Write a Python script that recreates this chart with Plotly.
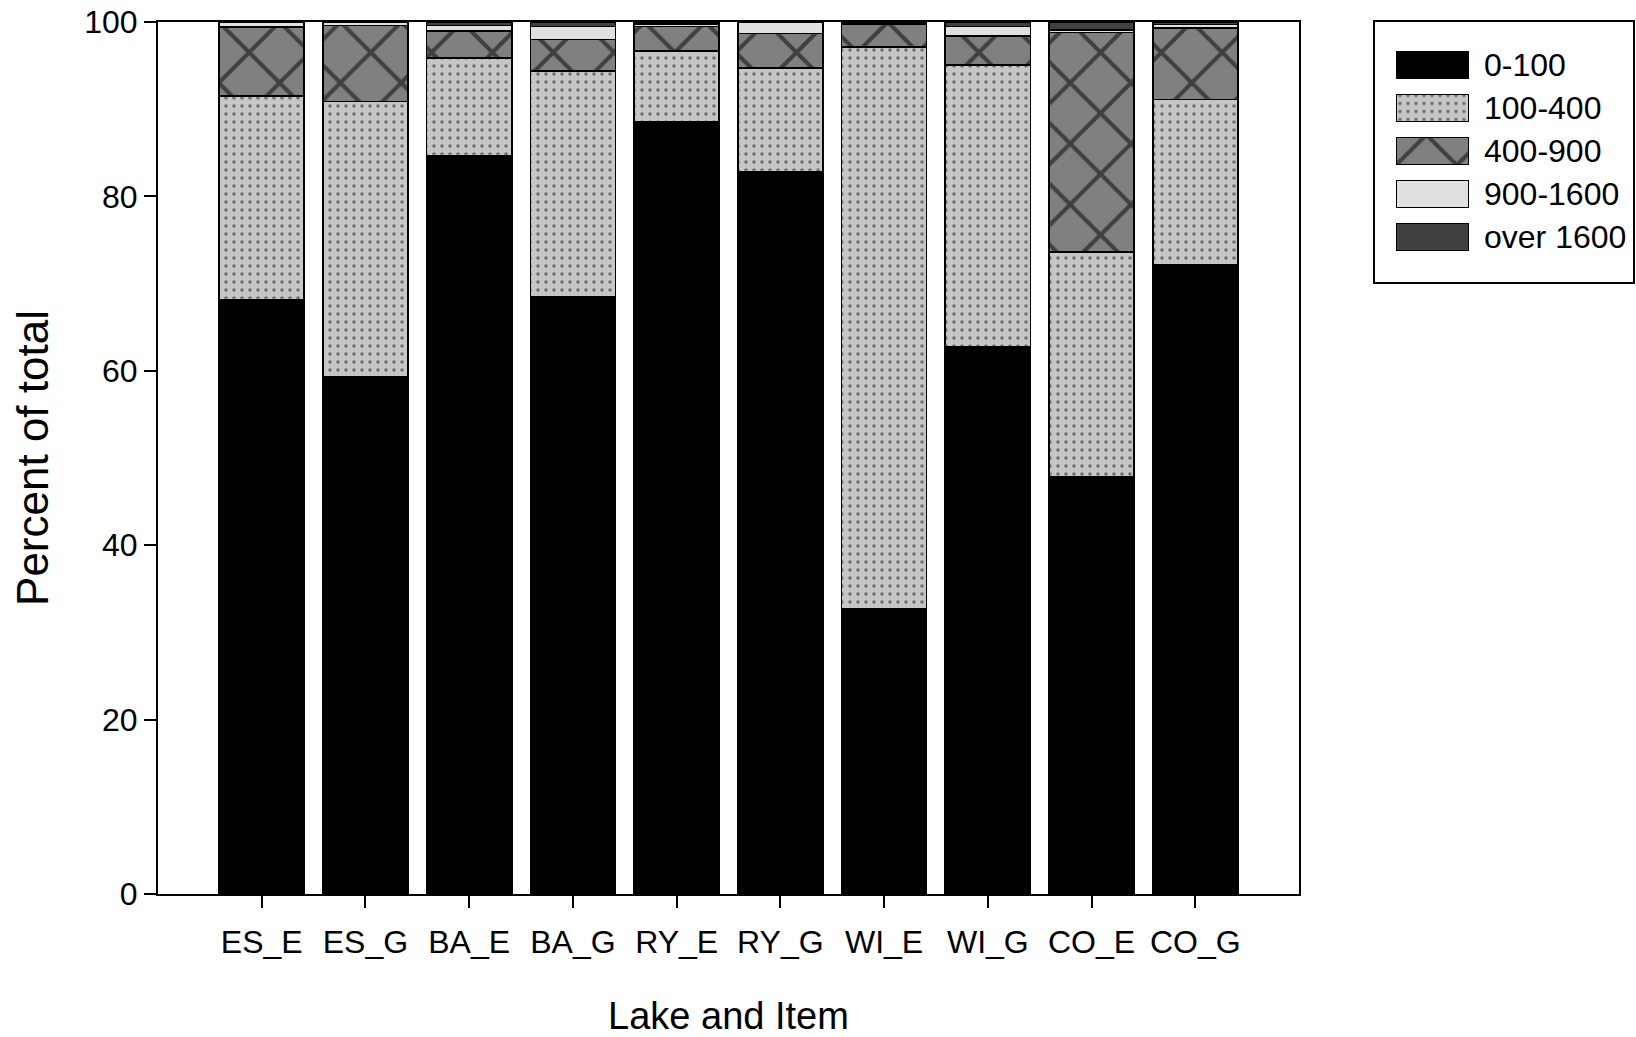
import plotly.graph_objects as go

categories = ["ES_E", "ES_G", "BA_E", "BA_G", "RY_E", "RY_G", "WI_E", "WI_G", "CO_E", "CO_G"]
series_names = ["0-100", "100-400", "400-900", "900-1600", "over 1600"]
s_0_100 = [68.2, 59.3, 84.7, 68.5, 88.5, 82.8, 32.7, 62.8, 47.8, 72.2]
s_100_400 = [23.3, 31.6, 11.2, 25.9, 8.2, 11.9, 64.4, 32.3, 25.8, 18.9]
s_400_900 = [7.9, 8.7, 3.1, 3.6, 2.8, 4.0, 2.6, 3.3, 25.2, 8.2]
s_900_1600 = [0.6, 0.4, 0.6, 1.5, 0.3, 1.3, 0.1, 1.1, 0.3, 0.4]
s_over_1600 = [0.0, 0.0, 0.4, 0.5, 0.2, 0.0, 0.2, 0.5, 0.9, 0.3]
y_ticks = [0, 20, 40, 60, 80, 100]

FONT = "Liberation Sans, Arial, sans-serif"

W, H = 1636, 1037
ML, MR, MT, MB = 158, 0, 22, 143
PW = W - ML - MR
PH = H - MT - MB


def px_x(x):
    return (x - ML) / PW


def px_y(y):
    return (H - MB - y) / PH


styles = [
    dict(color="#000000"),
    dict(color="#c6c6c6", pattern=dict(shape=".", fgcolor="#1a1a1a", bgcolor="#c6c6c6",
                                       size=8, solidity=0.16, fillmode="overlay")),
    dict(color="#808080", pattern=dict(shape="x", fgcolor="#000000", bgcolor="#808080",
                                       size=43, solidity=0.18, fillmode="overlay")),
    dict(color="#e0e0e0"),
    dict(color="#404040"),
]
values = [s_0_100, s_100_400, s_400_900, s_900_1600, s_over_1600]


def make_marker(st):
    m = dict(color=st["color"], line=dict(color="#000000", width=1.6))
    if "pattern" in st:
        m["pattern"] = st["pattern"]
    return m


fig = go.Figure()
for name, vals, st in zip(series_names, values, styles):
    fig.add_trace(go.Bar(x=categories, y=vals, name=name, marker=make_marker(st),
                         xaxis="x", yaxis="y", showlegend=False))

# legend drawn as a small bar subplot (swatches) with labels as tick text
for name, st in zip(series_names, styles):
    fig.add_trace(go.Bar(x=[1], y=[name], orientation="h", width=0.62,
                         marker=make_marker(st), xaxis="x2", yaxis="y2",
                         showlegend=False, hoverinfo="skip"))

fig.update_layout(
    barmode="stack",
    bargap=0.18,
    width=W, height=H,
    margin=dict(l=ML, r=MR, t=MT, b=MB, autoexpand=False),
    plot_bgcolor="white", paper_bgcolor="white",
    font=dict(family=FONT, size=32, color="#000000"),
    showlegend=False,
    xaxis=dict(
        domain=[0, px_x(1299)],
        range=[-1, 10], showline=True, linecolor="#000000", linewidth=2, mirror=True,
        ticks="outside", ticklen=12, tickwidth=2, tickcolor="#000000",
        showgrid=False, zeroline=False, ticklabelstandoff=7,
        title=dict(text="Lake and Item", font=dict(size=38), standoff=44),
        tickfont=dict(size=32),
    ),
    yaxis=dict(
        domain=[0, 1],
        range=[0, 100], tickvals=y_ticks, showline=True, linecolor="#000000", linewidth=2,
        mirror=True, ticks="outside", ticklen=12, tickwidth=2, tickcolor="#000000",
        showgrid=False, zeroline=False,
        title=dict(text="Percent of total", font=dict(size=44), standoff=22),
        tickfont=dict(size=32),
    ),
    xaxis2=dict(
        domain=[px_x(1396), px_x(1469)], range=[0, 1], anchor="y2",
        visible=False, fixedrange=True,
    ),
    yaxis2=dict(
        domain=[px_y(258.5), px_y(43.5)], anchor="x2", side="right",
        type="category", categoryorder="array", categoryarray=series_names,
        range=[4.5, -0.5], showline=False, showgrid=False, zeroline=False,
        ticks="", ticklabelstandoff=14, tickfont=dict(size=32), fixedrange=True,
    ),
    shapes=[dict(type="rect", xref="paper", yref="paper",
                 x0=px_x(1374), x1=px_x(1634), y0=px_y(283), y1=px_y(21),
                 line=dict(color="#000000", width=2), fillcolor="rgba(0,0,0,0)")],
)

fig.write_html("out.html")
